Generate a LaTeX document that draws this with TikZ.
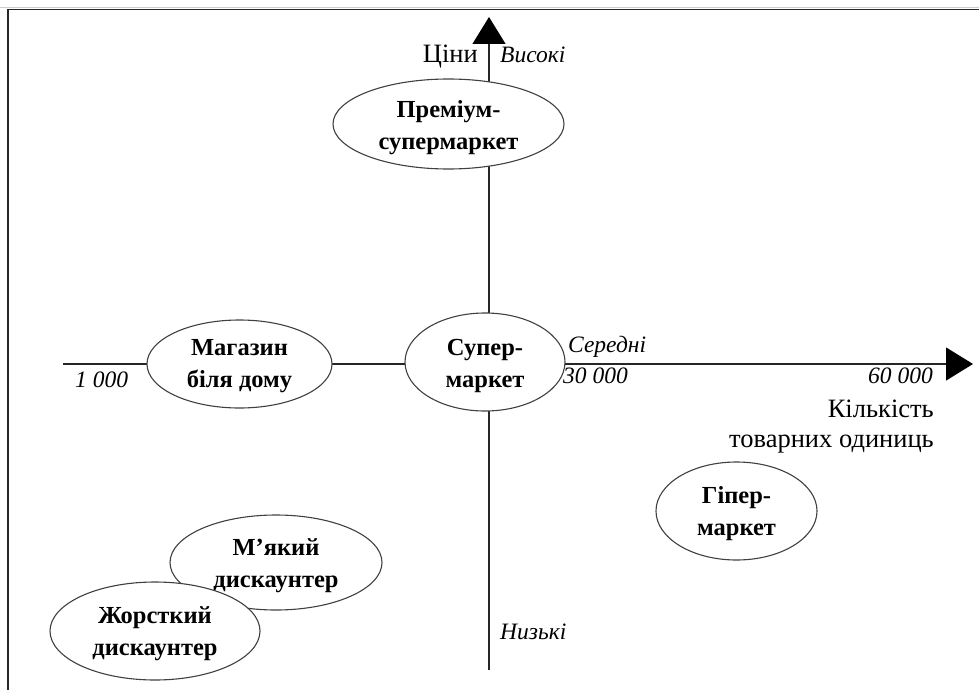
\documentclass[tikz,border=0pt]{standalone}
\usepackage{fontspec}
\setmainfont{Liberation Serif}
\usetikzlibrary{shapes.geometric,arrows.meta}
\begin{document}
\begin{tikzpicture}[x=1pt,y=-1pt,
  oval/.style={ellipse,draw=black!75,line width=1.1pt,fill=white,inner sep=0pt},
  otext/.style={inner sep=0pt,align=center,font=\fontsize{24.5}{32}\selectfont\bfseries},
  axis/.style={line width=1.2pt,draw=black!85},
  tip/.style={-{Triangle[length=27pt,width=33pt,fill=black,color=black]}},
  vlab/.style={font=\fontsize{23.5}{28}\selectfont\itshape,inner sep=0pt},
  tlab/.style={font=\fontsize{26.5}{30}\selectfont,inner sep=0pt}]
\useasboundingbox (0,0) rectangle (979,690);
% frame
\draw[gray!40,line width=1.4pt] (0,7.8) -- (979,7.8);
\draw[black!85,line width=1.3pt] (8,9.5) -- (979,9.5);
\draw[black!85,line width=1.3pt] (8,9.5) -- (8,690);
% axes
\coordinate (xs) at (63,364);
\coordinate (xe) at (973,364);
\coordinate (ys) at (489,670);
\coordinate (ye) at (489,17);
\draw[axis,tip] (xs) -- (xe);
\draw[axis,tip] (ys) -- (ye);
% ellipses
\node[oval,minimum width=231pt,minimum height=90pt] (prem) at (448.5,124) {};
\node[otext] (premt) at ([yshift=-3.5pt]prem.center) {Преміум-\\супермаркет};
\node[oval,minimum width=185pt,minimum height=88pt] (mag) at (239.5,364) {};
\node[otext] (magt) at ([yshift=-2.5pt]mag.center) {Магазин\\біля дому};
\node[oval,minimum width=160pt,minimum height=98pt] (sup) at (485,362) {};
\node[otext] (supt) at ([yshift=-3.5pt]sup.center) {Супер-\\маркет};
\node[oval,minimum width=161pt,minimum height=98pt] (hyp) at (736.5,511) {};
\node[otext] (hypt) at ([yshift=-3pt]hyp.center) {Гіпер-\\маркет};
\node[oval,minimum width=212pt,minimum height=95pt] (soft) at (276,562.5) {};
\node[otext] (softt) at ([yshift=-3.5pt]soft.center) {М’який\\дискаунтер};
\node[oval,minimum width=210pt,minimum height=98pt] (hard) at (155,631) {};
\node[otext] (hardt) at ([yshift=-3pt]hard.center) {Жорсткий\\дискаунтер};
% labels
\node[tlab,anchor=base east] (tsiny) at (478,63) {Ціни};
\node[vlab,anchor=base west] (vys) at (500,63) {Високі};
\node[vlab,anchor=base west] (ser) at (568,352) {Середні};
\node[vlab,anchor=base west] (n30) at (563,383) {30 000};
\node[vlab,anchor=base east] (n60) at (933,383) {60 000};
\node[vlab,anchor=base west] (n1) at (75,387) {1 000};
\node[vlab,anchor=base west] (nyz) at (500,639) {Низькі};
\node[tlab,anchor=base east] (k1) at (934,417) {Кількість};
\node[tlab,anchor=base east] (k2) at (934,447) {товарних одиниць};
\end{tikzpicture}
\end{document}
